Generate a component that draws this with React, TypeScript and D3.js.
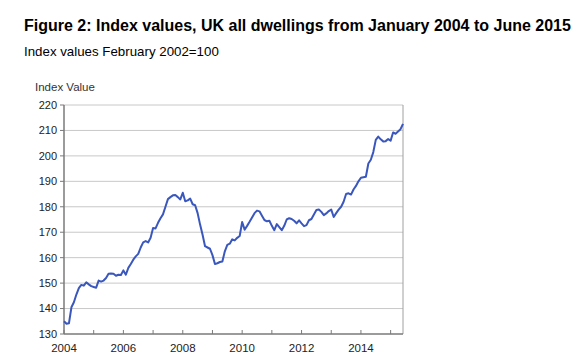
import React from 'react';
import * as d3 from 'd3';

// monthly index values, Jan 2004 .. Jun 2015 (Feb 2002 = 100)
const startYear = 2004;
const values2004 = [135.0, 134.0, 134.2, 140.5, 142.5, 145.5, 148.0, 149.3, 149.0, 150.3, 149.5, 148.8];
const values2005 = [148.5, 148.2, 151.0, 150.6, 151.0, 152.0, 153.7, 153.8, 153.7, 152.9, 153.3, 153.2];
const values2006 = [155.0, 153.3, 156.0, 157.5, 159.2, 160.5, 161.5, 164.0, 166.0, 166.5, 166.0, 167.8];
const values2007 = [171.7, 171.5, 173.7, 175.5, 177.0, 180.0, 183.0, 183.8, 184.5, 184.6, 183.8, 182.9];
const values2008 = [185.5, 182.2, 182.5, 183.2, 181.0, 180.6, 177.5, 173.0, 169.0, 164.5, 164.0, 163.5];
const values2009 = [161.0, 157.5, 157.8, 158.3, 158.5, 162.5, 165.0, 165.5, 167.2, 166.8, 167.8, 168.5];
const values2010 = [174.0, 171.0, 172.5, 174.1, 175.8, 177.5, 178.5, 178.2, 176.5, 174.8, 174.3, 174.5];
const values2011 = [172.5, 170.8, 173.2, 172.0, 170.8, 172.5, 175.0, 175.5, 175.2, 174.5, 173.5, 174.7];
const values2012 = [173.5, 172.4, 172.8, 174.7, 175.2, 177.0, 178.7, 178.9, 178.0, 176.7, 177.4, 178.3];
const values2013 = [178.9, 176.0, 177.5, 178.9, 180.0, 182.0, 185.0, 185.3, 184.8, 186.8, 188.2, 190.0];
const values2014 = [191.4, 191.6, 191.8, 197.0, 198.5, 201.5, 206.3, 207.6, 206.5, 205.7, 205.8, 206.6];
const values2015 = [206.0, 209.2, 208.7, 209.6, 210.5, 212.6];

const yTicks = [130, 140, 150, 160, 170, 180, 190, 200, 210, 220];
const xTickYears = [2004, 2005, 2006, 2007, 2008, 2009, 2010, 2011, 2012, 2013, 2014, 2015];
const xLabelYears = [2004, 2006, 2008, 2010, 2012, 2014];

const series = [
  ...values2004, ...values2005, ...values2006, ...values2007, ...values2008, ...values2009,
  ...values2010, ...values2011, ...values2012, ...values2013, ...values2014, ...values2015,
].map((v, i) => ({ t: startYear + i / 12, v }));

const margin = { top: 105, right: 174, bottom: 30, left: 64 };
const width = 577;
const height = 364;
const innerW = width - margin.left - margin.right;
const innerH = height - margin.top - margin.bottom;

const font = '"Liberation Sans", Arial, sans-serif';

export default function App() {
  const x = d3.scaleLinear()
    .domain([startYear, series[series.length - 1].t])
    .range([0, innerW]);
  const y = d3.scaleLinear().domain([130, 220]).range([innerH, 0]);

  const line = d3.line<{ t: number; v: number }>()
    .x(d => x(d.t))
    .y(d => y(d.v));

  return (
    <svg width={width} height={height} style={{ position: 'absolute', left: 0, top: 0, background: '#fff' }}>
      <text x={24} y={31} fontFamily={font} fontWeight="bold" fontSize={16} fill="#000">
        Figure 2: Index values, UK all dwellings from January 2004 to June 2015
      </text>
      <text x={24} y={56} fontFamily={font} fontSize={13.3} fill="#000">
        Index values February 2002=100
      </text>
      <text x={35} y={91} fontFamily={font} fontSize={11.5} fill="#333">Index Value</text>

      <g transform={`translate(${margin.left},${margin.top})`}>
        {/* grid */}
        {yTicks.filter(t => t > 130).map(t => (
          <line key={t} x1={0} x2={innerW} y1={y(t)} y2={y(t)} stroke="#c8c8c8" strokeWidth={1} />
        ))}
        <line x1={innerW} x2={innerW} y1={0} y2={innerH} stroke="#a0a0a0" strokeWidth={1} />

        {/* y axis */}
        <line x1={0} x2={0} y1={0} y2={innerH} stroke="#7a7a7a" strokeWidth={1.5} />
        {yTicks.map(t => (
          <g key={t} transform={`translate(0,${y(t)})`}>
            <line x1={-4} x2={0} stroke="#7a7a7a" />
            <text x={-7} dy="0.35em" textAnchor="end" fontFamily={font} fontSize={11} fill="#222">{t}</text>
          </g>
        ))}

        {/* x axis */}
        <line x1={0} x2={innerW} y1={innerH} y2={innerH} stroke="#7a7a7a" strokeWidth={1.5} />
        {xTickYears.map(yr => (
          <line key={yr} x1={x(yr)} x2={x(yr)} y1={innerH} y2={innerH - 4} stroke="#7a7a7a" />
        ))}
        {xLabelYears.map(yr => (
          <text key={yr} x={x(yr)} y={innerH + 18} textAnchor="middle" fontFamily={font} fontSize={11.5} fill="#222">{yr}</text>
        ))}

        <path d={line(series) || ''} fill="none" stroke="#3a57bd" strokeWidth={2} strokeLinejoin="round" />
      </g>
    </svg>
  );
}
